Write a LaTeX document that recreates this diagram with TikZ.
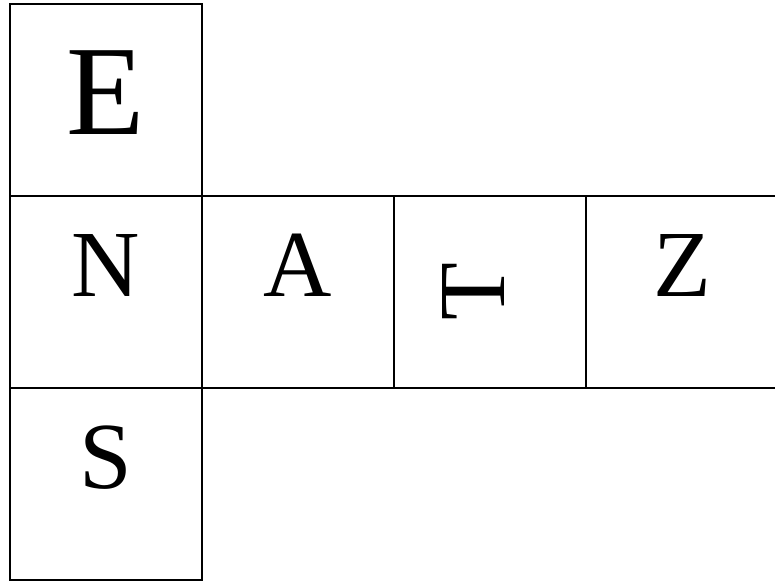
\documentclass[tikz,border=0pt]{standalone}
\usepackage{fontspec}
\setmainfont{Liberation Serif}
\usetikzlibrary{positioning}
\tikzset{
  cell/.style={draw=black,line width=1.2pt,minimum size=144pt,inner sep=0pt,outer sep=0pt},
  letter/.style={inner sep=0pt,font=\fontsize{71}{71}\selectfont,text=black},
  bigletter/.style={letter,font=\fontsize{96}{96}\selectfont}
}
\begin{document}
\begin{tikzpicture}[node distance=0pt]
  \useasboundingbox (-79.5pt,-217.5pt) rectangle (501.75pt,219pt);
  % the cells
  \node[cell] (n) {};
  \node[cell,above=of n] (e) {};
  \node[cell,below=of n] (s) {};
  \node[cell,right=of n] (a) {};
  \node[cell,right=of a] (t) {};
  \node[cell,right=of t] (z) {};
  % the letters
  \node[bigletter] (le) at ([yshift=5.6pt]e.center) {E};
  \node[letter] (ln) at ([yshift=20pt]n.center) {N};
  \node[letter] (ls) at ([yshift=20pt]s.center) {S};
  \node[letter] (la) at ([yshift=20pt]a.center) {A};
  \node[letter,rotate=90] (lt) at ([xshift=-12pt]t.center) {T};
  \node[letter] (lz) at ([yshift=20pt]z.center) {Z};
\end{tikzpicture}
\end{document}
